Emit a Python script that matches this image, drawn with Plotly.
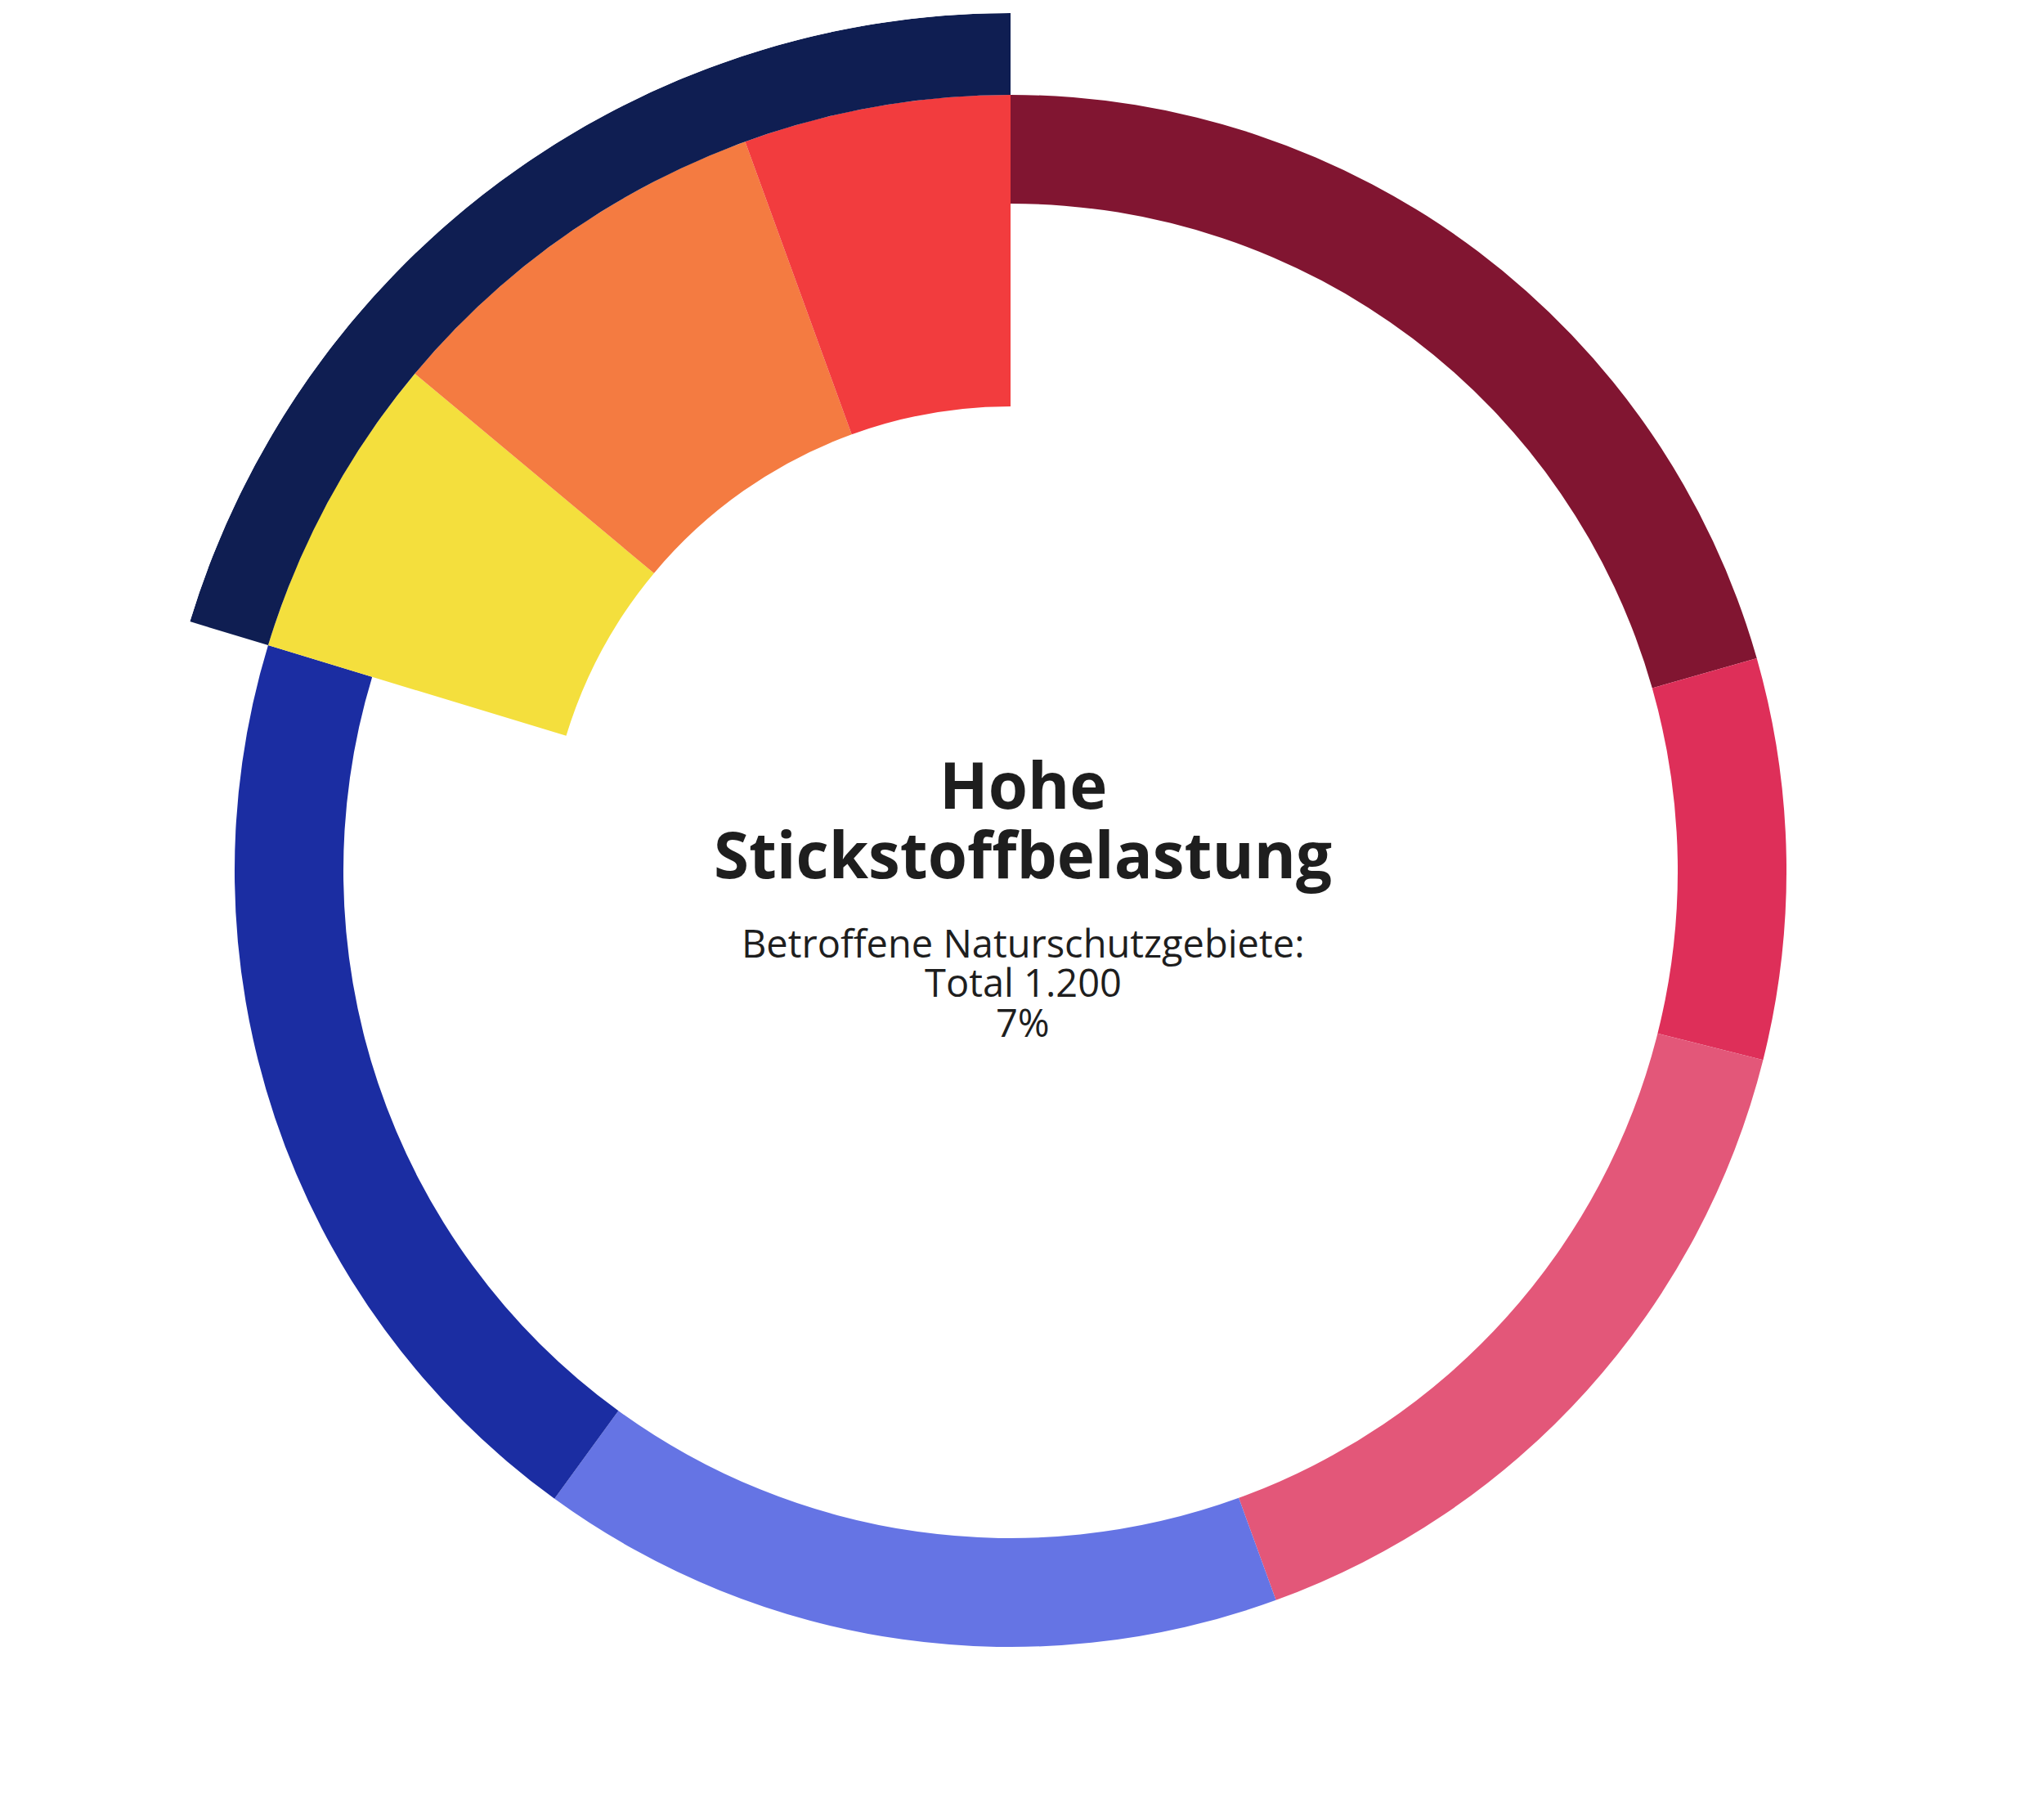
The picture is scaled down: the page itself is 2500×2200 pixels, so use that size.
import plotly.graph_objects as go

# ---- data (in degrees of the full circle) ----
ring_categories = ["Segment 1", "Segment 2", "Segment 3", "Segment 4", "Segment 5"]
ring_values = [74.1, 30.0, 55.9, 56.0, 70.9]
ring_colors = ["#811531", "#DE2F59", "#E35779", "#6574E4", "#1B2DA2"]

high_categories = ["Hoch 1", "Hoch 2", "Hoch 3"]
high_values = [22.95, 30.15, 20.0]
high_colors = ["#F4DF3D", "#F47B41", "#F23C3E"]

group_label = "Hohe Stickstoffbelastung"
group_color = "#0F1E52"

title_lines = ["Hohe", "Stickstoffbelastung"]
sub_lines = ["Betroffene Naturschutzgebiete:", "Total 1.200", "7%"]

# ---- radial bands (fraction of outer radius) ----
R_GROUP_OUT = 1.0
R_RING_OUT = 0.9047
R_RING_IN = 0.7779
R_HIGH_IN = 0.5415

total = sum(ring_values) + sum(high_values)
scale = 360.0 / total

fig = go.Figure()

start = 0.0
for cat, val, col in zip(ring_categories, ring_values, ring_colors):
    w = val * scale
    fig.add_trace(go.Barpolar(
        theta=[start + w / 2], width=[w], r=[R_RING_OUT - R_RING_IN], base=[R_RING_IN],
        marker=dict(color=col, line=dict(width=0)), name=cat, hoverinfo="name"))
    start += w

group_start = start
for cat, val, col in zip(high_categories, high_values, high_colors):
    w = val * scale
    fig.add_trace(go.Barpolar(
        theta=[start + w / 2], width=[w], r=[R_RING_OUT - R_HIGH_IN], base=[R_HIGH_IN],
        marker=dict(color=col, line=dict(width=0)), name=cat, hoverinfo="name"))
    start += w

gw = sum(high_values) * scale
fig.add_trace(go.Barpolar(
    theta=[group_start + gw / 2], width=[gw], r=[R_GROUP_OUT - R_RING_OUT], base=[R_RING_OUT],
    marker=dict(color=group_color, line=dict(width=0)), name=group_label, hoverinfo="name"))

W, H = 2500, 2200
cx, cy, R = 1236, 1065, 1049
text_x = 1251

font_family = "Open Sans, Noto Sans, sans-serif"
text_color = "#1E1E1E"

annotations = []
title_y = [959, 1044]
for line, y in zip(title_lines, title_y):
    annotations.append(dict(text="<b>" + line + "</b>", x=text_x / W, y=1 - y / H, xref="paper", yref="paper",
                            xanchor="center", yanchor="middle", showarrow=False,
                            font=dict(family=font_family, size=78, color=text_color)))
sub_y = [1153, 1201, 1250]
for line, y in zip(sub_lines, sub_y):
    annotations.append(dict(text=line, x=text_x / W, y=1 - y / H, xref="paper", yref="paper",
                            xanchor="center", yanchor="middle", showarrow=False,
                            font=dict(family=font_family, size=47, color=text_color)))

fig.update_layout(
    width=W, height=H,
    margin=dict(l=0, r=0, t=0, b=0),
    paper_bgcolor="white",
    showlegend=False,
    annotations=annotations,
    polar=dict(
        domain=dict(x=[(cx - R) / W, (cx + R) / W], y=[1 - (cy + R) / H, 1 - (cy - R) / H]),
        bgcolor="white",
        barmode="overlay",
        hole=0,
        angularaxis=dict(rotation=90, direction="clockwise", visible=False, showgrid=False),
        radialaxis=dict(range=[0, R_GROUP_OUT], visible=False, showgrid=False),
    ),
)

fig.write_html("out.html")
